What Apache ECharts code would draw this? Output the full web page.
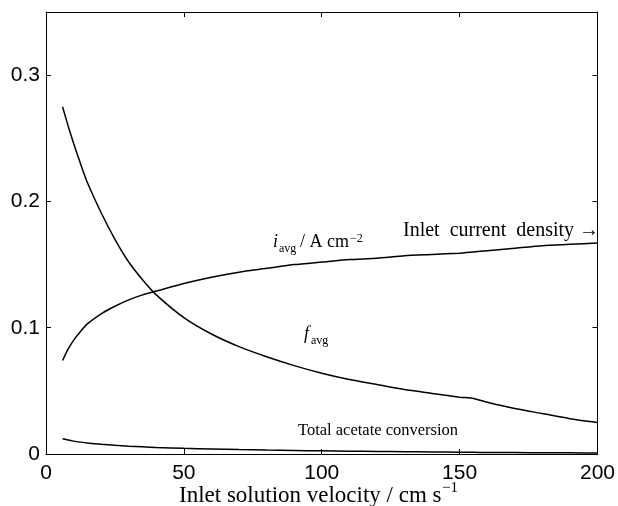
<!DOCTYPE html>
<html>
<head>
<meta charset="utf-8">
<script src="https://cdn.jsdelivr.net/npm/echarts@6/dist/echarts.min.js"></script>
<style>
  body { margin: 0; background: #fff; }
</style>
</head>
<body>
<div id="chart" style="width: 618px; height: 506px"></div>
<script>
// inlet velocity, cm/s
const velocity = [6, 8, 10, 12.5, 15, 20, 25, 30, 35, 40, 50, 60, 70, 80, 90, 100,
  110, 120, 130, 140, 150, 155, 160, 170, 180, 190, 200]
const fAvg = [0.275, 0.26, 0.246, 0.23, 0.215, 0.191, 0.17, 0.152, 0.138, 0.126, 0.108,
  0.095, 0.085, 0.077, 0.07, 0.064, 0.059, 0.055, 0.051, 0.048, 0.045, 0.044, 0.041,
  0.036, 0.032, 0.028, 0.025]
const iAvg = [0.074, 0.083, 0.09, 0.097, 0.103, 0.111, 0.117, 0.122, 0.126, 0.129, 0.135,
  0.14, 0.144, 0.147, 0.15, 0.152, 0.154, 0.155, 0.157, 0.158, 0.159, 0.16, 0.161,
  0.163, 0.165, 0.166, 0.167]
const conversion = [0.012, 0.011, 0.0102, 0.0094, 0.0087, 0.0077, 0.0069, 0.0062, 0.0057,
  0.0052, 0.0045, 0.004, 0.0035, 0.0031, 0.0028, 0.0025, 0.0022, 0.002, 0.0018, 0.0016,
  0.0014, 0.0013, 0.0012, 0.0011, 0.001, 0.0009, 0.0008]
const xTicks = [0, 50, 100, 150, 200]
const yTicks = [0, 0.1, 0.2, 0.3]

const pairs = (ys) => velocity.map((v, i) => [v, ys[i]])

const serif = '"Liberation Serif", "DejaVu Serif", serif'
const sans = '"Liberation Sans", Arial, sans-serif'

const lineSeries = (name, ys) => ({
  name,
  type: 'line',
  smooth: 0.2,
  showSymbol: false,
  data: pairs(ys),
  lineStyle: { color: '#000', width: 1.5 },
  silent: true
})

const frameAxis = {
  axisLine: { show: true, onZero: false, lineStyle: { color: '#000', width: 1 } },
  axisTick: { show: true, inside: true, length: 5, lineStyle: { color: '#000' } },
  splitLine: { show: false }
}

const chart = echarts.init(document.getElementById('chart'))
chart.setOption({
  animation: false,
  backgroundColor: '#fff',
  grid: { left: 46, right: 20, top: 12, bottom: 52 },
  xAxis: [
    {
      type: 'value', min: 0, max: 200,
      ...frameAxis,
      axisTick: { ...frameAxis.axisTick, customValues: xTicks },
      axisLabel: { color: '#000', fontFamily: sans, fontSize: 21, margin: 9, customValues: xTicks }
    },
    {
      type: 'value', min: 0, max: 200, position: 'top',
      ...frameAxis,
      axisTick: { ...frameAxis.axisTick, customValues: xTicks },
      axisLabel: { show: false }
    }
  ],
  yAxis: [
    {
      type: 'value', min: 0, max: 0.35,
      ...frameAxis,
      axisTick: { ...frameAxis.axisTick, customValues: yTicks },
      axisLabel: { color: '#000', fontFamily: sans, fontSize: 21, margin: 6, customValues: yTicks }
    },
    {
      type: 'value', min: 0, max: 0.35, position: 'right',
      ...frameAxis,
      axisTick: { ...frameAxis.axisTick, customValues: yTicks },
      axisLabel: { show: false }
    }
  ],
  series: [
    lineSeries('f_avg', fAvg),
    lineSeries('i_avg', iAvg),
    lineSeries('conversion', conversion)
  ]
})

// annotations and axis title as plain text
const txt = (x, y, text, size, extra) => ({
  type: 'text', x, y,
  style: Object.assign({ text, fontFamily: serif, fontSize: size, fill: '#000', textVerticalAlign: 'bottom' }, extra || {})
})
chart.setOption({
  graphic: [
    // i_avg / A cm^-2
    txt(273, 251, 'i', 18, { fontStyle: 'italic' }),
    txt(279, 255, 'avg', 12),
    txt(300, 251, '/ A cm', 18),
    txt(350, 245, '−2', 12),
    // f_avg
    txt(304, 343, 'f', 18, { fontStyle: 'italic' }),
    txt(311, 347, 'avg', 12),
    // inlet current density arrow
    txt(403, 241, 'Inlet  current  density →', 20),
    txt(298, 439, 'Total acetate conversion', 16.5),
    // x axis title
    txt(179, 507, 'Inlet solution velocity / cm s', 23),
    txt(442, 496, '−1', 15)
  ]
})
</script>
</body>
</html>
